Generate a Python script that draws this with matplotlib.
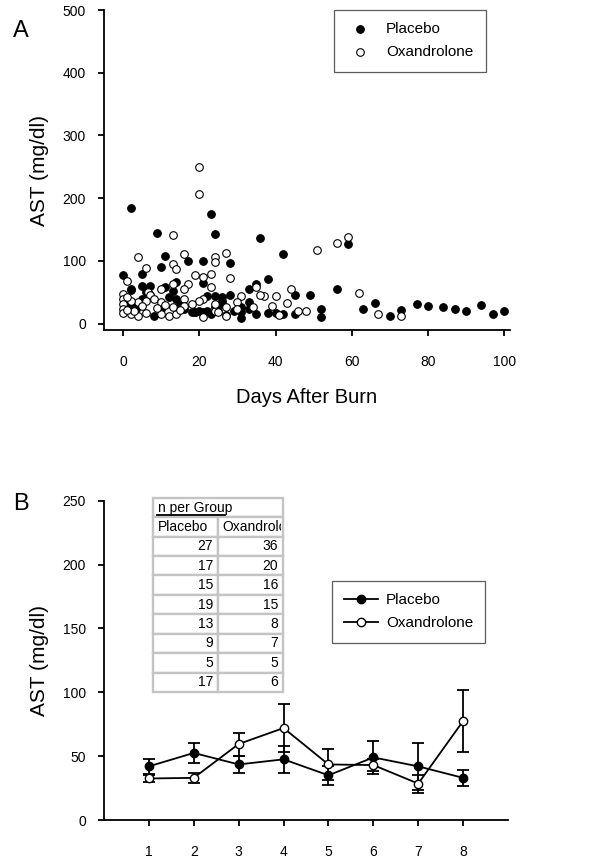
"""
AST over days after burn (A) and by week, mean +/- SE (B).
"""

import matplotlib
matplotlib.use("Agg")
import matplotlib.pyplot as plt
from matplotlib.patches import Rectangle
from matplotlib.transforms import Bbox, TransformedBbox

plt.rcParams.update({'font.family': ['Liberation Sans', 'DejaVu Sans'],
                     'font.size': 10})

# ============================== data =========================================

# panel A - individual measurements (day, AST)
placebo_days = [0, 2, 2, 9, 11, 10, 5, 5, 7, 2, 17, 21, 23, 24, 21, 28, 28, 36,
                38, 42, 35, 33, 33, 31, 35, 38, 40, 42, 45, 45, 49, 52, 52, 56,
                59, 63, 66, 70, 73, 77, 80, 84, 87, 90, 94, 97, 100,
                18, 19, 20, 22, 23, 24, 24, 26, 26, 22, 14, 12, 13, 14, 10, 8,
                6, 3.5, 29, 31, 33, 5, 3, 1, 2, 7, 15, 19, 25, 27, 31, 11, 16,
                21, 26]
placebo_ast = [77, 185, 55, 144, 108, 91, 80, 60, 60, 53, 100, 100, 175, 143,
               65, 96, 46, 136, 71, 111, 63, 55, 35, 9, 15, 17, 17, 15, 46, 15,
               46, 24, 11, 55, 127, 24, 33, 13, 22, 32, 28, 27, 24, 21, 30, 15,
               21, 19, 19, 21, 21, 16, 27, 44, 43, 31, 44, 40, 43, 52, 67, 24,
               13, 51, 24, 21, 27, 24, 40, 27, 35, 28, 45, 30, 18, 20, 14, 18,
               58, 23, 18, 36]

oxan_days = [20, 20, 13, 4, 6, 16, 27, 24, 24, 13, 14, 19, 21, 23, 28, 1, 17,
             13, 23, 10, 35, 37, 36, 40, 44, 43, 51, 56, 59, 62, 67, 73, 41,
             46, 48, 39, 31, 30, 34, 21, 20, 16, 16, 18, 16, 6.5, 7, 6, 4, 2,
             0, 0, 0, 0, 0, 1, 2, 4, 6, 8, 10, 10, 12, 14, 13, 21, 24, 27, 27,
             30, 24, 3, 9, 11, 15, 25, 5, 1]
oxan_ast = [250, 207, 142, 107, 89, 111, 112, 107, 98, 95, 88, 78, 75, 79, 73,
            68, 63, 63, 58, 56, 59, 44, 45, 44, 55, 33, 118, 129, 139, 49, 16,
            12, 14, 20, 20, 28, 44, 35, 26, 40, 36, 40, 56, 31, 28, 51, 46, 37,
            35, 36, 48, 40, 32, 24, 17, 43, 16, 13, 17, 40, 35, 16, 13, 16,
            27, 11, 21, 13, 27, 24, 32, 20, 25, 30, 22, 18, 28, 22]

# panel B - grouped means and standard errors
weeks = [1, 2, 3, 4, 5, 6, 7, 8]
placebo_mean = [42, 52.5, 43.5, 47.5, 35, 49, 42, 33]
placebo_err = [6, 8, 6.5, 10.5, 7.5, 13, 18.5, 6.5]
oxan_mean = [32.5, 33, 59.5, 72, 43.5, 43, 28.5, 77.5]
oxan_err = [3, 4, 9, 18.5, 12, 5, 7, 24]

n_placebo = [27, 17, 15, 19, 13, 9, 5, 17]
n_oxan = [36, 20, 16, 15, 8, 7, 5, 6]

# ============================== figure =======================================

fig = plt.figure(figsize=(5.89, 8.59), dpi=100)
W, H = 589.0, 859.0

def px_axes(x0, x1, y_top, y_bot):
    return fig.add_axes([x0 / W, 1 - y_bot / H, (x1 - x0) / W, (y_bot - y_top) / H])

def style_axes(ax):
    for side in ['top', 'right']:
        ax.spines[side].set_visible(False)
    for side in ['left', 'bottom']:
        ax.spines[side].set_linewidth(1.3)
    ax.tick_params(direction='out', length=4, width=1.3, labelsize=10)
    ax.tick_params(axis='x', pad=14)
    ax.tick_params(axis='y', pad=9)

# ---------------- panel A ----------------
axA = px_axes(104, 510, 10, 330)
axA.scatter(placebo_days, placebo_ast, s=30, c='black', edgecolors='black',
            linewidths=0.8, label='Placebo', zorder=3)
axA.scatter(oxan_days, oxan_ast, s=30, c='white', edgecolors='black',
            linewidths=0.8, label='Oxandrolone', zorder=4)
axA.set_xlim(-5, 101.5)
axA.set_ylim(-10, 500)
axA.set_xticks(range(0, 101, 20))
axA.set_yticks(range(0, 501, 100))
style_axes(axA)
axA.set_xlabel('Days After Burn', fontsize=14.5)
axA.xaxis.set_label_coords(0.5, -0.181)
axA.set_ylabel('AST (mg/dl)', fontsize=15)
axA.yaxis.set_label_coords(-0.135, 0.5)
legA = axA.legend(loc='upper left', bbox_to_anchor=(334 / W, 1 - 10 / H),
                  bbox_transform=fig.transFigure, fontsize=11, frameon=True,
                  fancybox=False, edgecolor='#333333', handlelength=1.85,
                  handletextpad=0.76, borderpad=0.8, labelspacing=0.6,
                  borderaxespad=0)
legA.get_frame().set_linewidth(0.9)
fig.text(13 / W, 1 - 37 / H, 'A', fontsize=17)

# ---------------- panel B ----------------
axB = px_axes(104, 508, 500.7, 820)
axB.errorbar(weeks, placebo_mean, yerr=placebo_err, fmt='none', ecolor='black',
             elinewidth=1.3, capsize=4.5, capthick=1.3, zorder=3)
axB.errorbar(weeks, oxan_mean, yerr=oxan_err, fmt='none', ecolor='black',
             elinewidth=1.3, capsize=4.5, capthick=1.3, zorder=3)
axB.plot(weeks, placebo_mean, '-o', color='black', mfc='black', mec='black',
         ms=6, lw=1.3, label='Placebo', zorder=4)
axB.plot(weeks, oxan_mean, '-o', color='black', mfc='white', mec='black',
         ms=6, lw=1.3, label='Oxandrolone', zorder=5)
axB.set_xlim(0, 9)
axB.set_ylim(0, 250)
axB.set_xticks(weeks)
axB.set_yticks(range(0, 251, 50))
style_axes(axB)
axB.set_ylabel('AST (mg/dl)', fontsize=15)
axB.yaxis.set_label_coords(-0.135, 0.5)
legB = axB.legend(loc='upper left', bbox_to_anchor=(332 / W, 1 - 581 / H),
                  bbox_transform=fig.transFigure, fontsize=11, frameon=True,
                  fancybox=False, edgecolor='#333333', handlelength=2.2,
                  handletextpad=0.52, borderpad=0.8, labelspacing=0.6,
                  borderaxespad=0)
legB.get_frame().set_linewidth(0.9)
fig.text(13 / W, 1 - 510 / H, 'B', fontsize=17)

# n per group table, drawn in axes fraction of panel B
t_left, t_mid, t_right = 0.121, 0.282, 0.443
t_top, row_h = 1.009, 0.0608
grid_c = '#c4c4c4'
cells = [(t_left, t_right)] + [(t_left, t_mid), (t_mid, t_right)] * 9
rows = [0] + [r for r in range(1, 10) for _ in (0, 1)]
for (x0, x1), r in zip(cells, rows):
    y0 = t_top - (r + 1) * row_h
    rect = Rectangle((x0, y0), x1 - x0, row_h, transform=axB.transAxes,
                     facecolor='white', edgecolor=grid_c, lw=1.7,
                     clip_on=False, zorder=5)
    axB.add_patch(rect)

axB.text(t_left + 0.012, t_top - 0.5 * row_h, 'n per Group', transform=axB.transAxes,
         ha='left', va='center', fontsize=10, zorder=6)
axB.plot([t_left + 0.01, t_left + 0.178], [t_top - 0.86 * row_h] * 2,
         color='black', lw=1.3, transform=axB.transAxes, clip_on=False, zorder=6)
axB.text(t_left + 0.012, t_top - 1.5 * row_h, 'Placebo', transform=axB.transAxes,
         ha='left', va='center', fontsize=10, zorder=6)
ox_head = axB.text(t_mid + 0.012, t_top - 1.5 * row_h, 'Oxandrolone',
                   transform=axB.transAxes, ha='left', va='center', fontsize=10,
                   zorder=6)
clip_bb = TransformedBbox(Bbox.from_extents(t_mid, t_top - 2 * row_h,
                                            t_right - 0.004, t_top - row_h),
                          axB.transAxes)
ox_head.set_clip_box(clip_bb)
ox_head.set_clip_path(None)
ox_head.set_clip_on(True)
for i, (a, b) in enumerate(zip(n_placebo, n_oxan)):
    yc = t_top - (i + 2.5) * row_h
    axB.text(t_mid - 0.012, yc, str(a), transform=axB.transAxes, ha='right',
             va='center', fontsize=10, zorder=6)
    axB.text(t_right - 0.012, yc, str(b), transform=axB.transAxes, ha='right',
             va='center', fontsize=10, zorder=6)

fig.savefig('out.png', dpi=100)
